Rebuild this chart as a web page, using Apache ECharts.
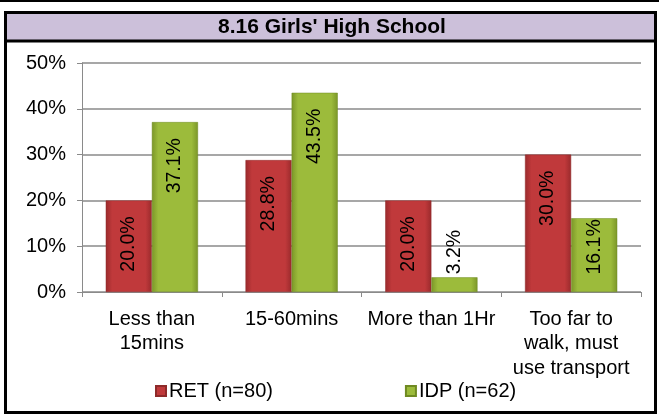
<!DOCTYPE html>
<html>
<head>
<meta charset="utf-8">
<script src="https://cdn.jsdelivr.net/npm/echarts@6/dist/echarts.min.js"></script>
<style>
  html, body { margin: 0; padding: 0; background: #fff; }
  #chart { width: 659px; height: 417px; }
</style>
</head>
<body>
<div id="chart"></div>
<script>
// Travel time to school, percentage of respondents per group
const titleText = "8.16 Girls' High School";
const categories = ['Less than\n15mins', '15-60mins', 'More than 1Hr', 'Too far to\nwalk, must\nuse transport'];
const retName = 'RET (n=80)';
const idpName = 'IDP (n=62)';
const retValues = [20.0, 28.8, 20.0, 30.0];
const idpValues = [37.1, 43.5, 3.2, 16.1];
const yTickMin = 0;
const yTickMax = 50;
const yTickStep = 10;

const FONT = "'Liberation Sans', Arial, sans-serif";

function barFill(edge, mid) {
  return {
    type: 'linear', x: 0, y: 0, x2: 1, y2: 0,
    colorStops: [
      { offset: 0, color: edge },
      { offset: 0.14, color: mid },
      { offset: 0.86, color: mid },
      { offset: 1, color: edge }
    ]
  };
}

const baseLabel = {
  show: true,
  position: 'insideTop',
  rotate: 90,
  align: 'right',
  verticalAlign: 'middle',
  distance: 16,
  fontFamily: FONT,
  fontSize: 19.5,
  color: '#000',
  formatter: p => p.value.toFixed(1) + '%'
};

// per-bar label placement: short bars keep the label at the top edge or above it
function withLabels(values) {
  return values.map(v => {
    if (v < 8) {
      return { value: v, label: { position: 'top', align: 'left', distance: 3 } };
    }
    if (v < 18) {
      return { value: v, label: { distance: 1 } };
    }
    return v;
  });
}

const chart = echarts.init(document.getElementById('chart'), null, { renderer: 'canvas' });

chart.setOption({
  animation: false,
  backgroundColor: '#fff',
  textStyle: { fontFamily: FONT },
  graphic: [
    { type: 'rect', shape: { x: 0, y: 0, width: 659, height: 2 }, style: { fill: '#000' }, z: 10 },
    { type: 'rect', shape: { x: 5.5, y: 12.5, width: 650, height: 28 }, style: { fill: '#CCC0DA', stroke: null }, z: 9 },
    { type: 'rect', shape: { x: 5, y: 39.5, width: 651, height: 3 }, style: { fill: '#000' }, z: 10 },
    { type: 'rect', shape: { x: 5.5, y: 12.5, width: 650, height: 400 }, style: { fill: null, stroke: '#000', lineWidth: 3 }, z: 10 },
    {
      type: 'text', x: 332, y: 27.5, z: 11,
      style: {
        text: titleText, fill: '#000', font: "bold 21px " + FONT,
        textAlign: 'center', textVerticalAlign: 'middle'
      }
    }
  ],
  grid: { left: 82, right: 18, top: 63, bottom: 125, containLabel: false },
  legend: {
    data: [retName, idpName],
    left: 155,
    top: 381,
    padding: 0,
    itemWidth: 10,
    itemHeight: 10,
    itemGap: 132,
    icon: 'rect',
    textStyle: { fontFamily: FONT, fontSize: 20, color: '#000', padding: [0, 0, 0, -2] }
  },
  xAxis: {
    type: 'category',
    data: categories,
    axisLine: { lineStyle: { color: '#8a8a8a', width: 1 } },
    axisTick: { show: true, length: 5, lineStyle: { color: '#8a8a8a' } },
    axisLabel: {
      interval: 0, margin: 15, fontFamily: FONT, fontSize: 20, lineHeight: 24.5, color: '#000'
    }
  },
  yAxis: {
    type: 'value',
    min: yTickMin,
    max: yTickMax,
    interval: yTickStep,
    axisLine: { show: true, lineStyle: { color: '#8a8a8a', width: 1 } },
    axisTick: { show: true, length: 5, lineStyle: { color: '#8a8a8a' } },
    axisLabel: {
      margin: 16, fontFamily: FONT, fontSize: 20, color: '#000',
      formatter: '{value}%'
    },
    splitLine: { lineStyle: { color: '#8a8a8a', width: 1.5 } }
  },
  series: [
    {
      name: retName,
      type: 'bar',
      data: withLabels(retValues),
      barGap: '0%',
      barCategoryGap: '34%',
      itemStyle: { color: barFill('#9a2a2c', '#C0393B'), borderColor: '#8e2a2a', borderWidth: 0.5 },
      label: baseLabel
    },
    {
      name: idpName,
      type: 'bar',
      data: withLabels(idpValues),
      barGap: '0%',
      barCategoryGap: '34%',
      itemStyle: { color: barFill('#7b9628', '#9CBB3B'), borderColor: '#6f8a22', borderWidth: 0.5 },
      label: baseLabel
    }
  ]
});
</script>
</body>
</html>
